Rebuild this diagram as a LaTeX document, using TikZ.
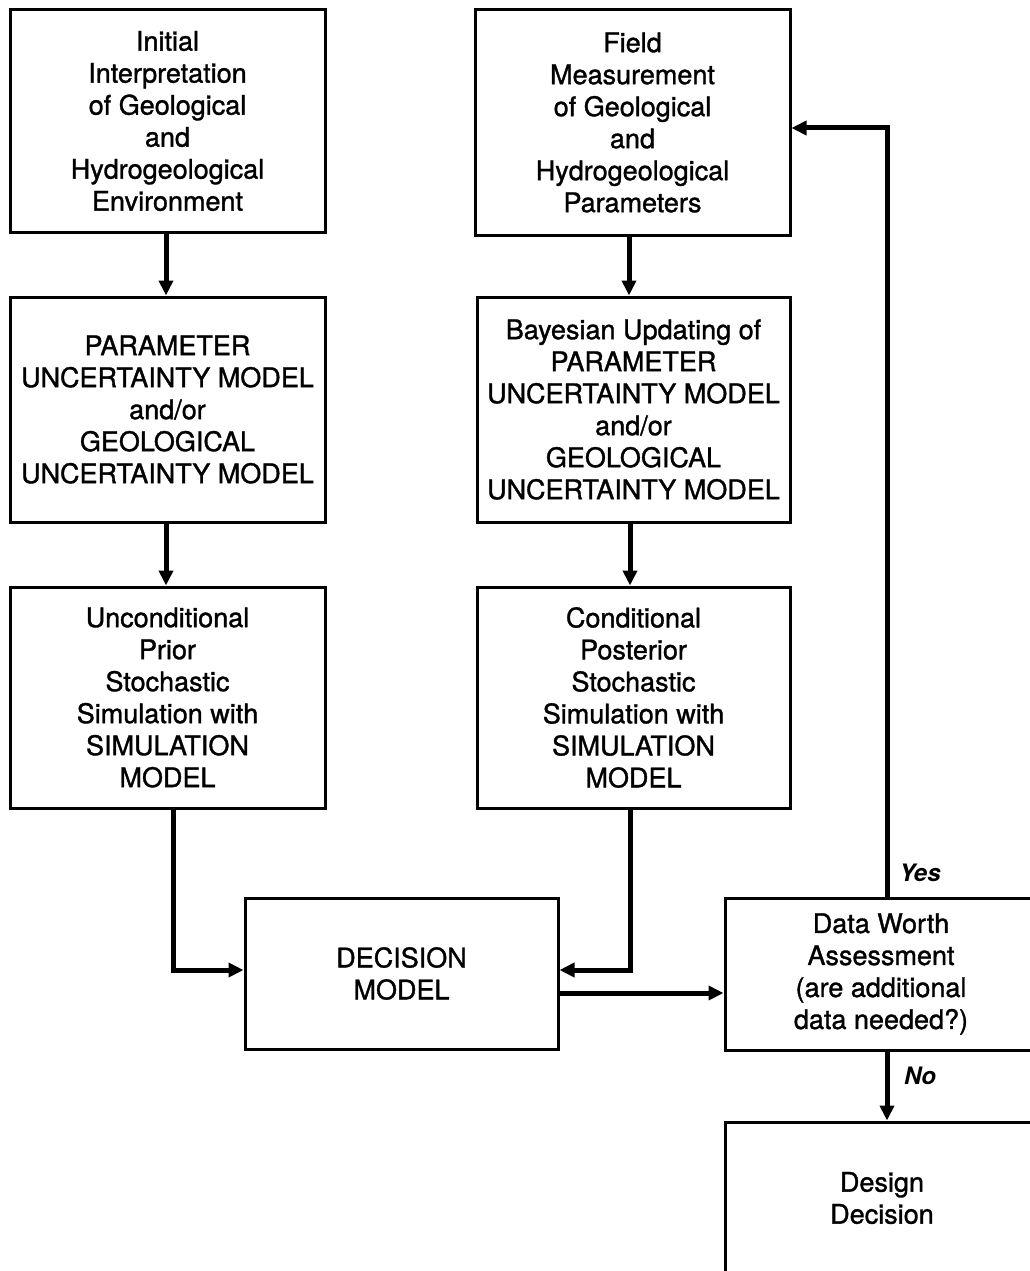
\documentclass[tikz,border=0pt]{standalone}
\usepackage{fontspec}
\setmainfont{TeX Gyre Heros}
\newfontfamily\boxfont{TeX Gyre Heros}[FakeBold=1.2]
\usetikzlibrary{arrows.meta}
\begin{document}
\begin{tikzpicture}[x=1pt,y=-1pt,
  box/.style={draw,line width=3pt,align=center,inner sep=0pt,
    font=\boxfont\fontsize{27}{32}\selectfont},
  arr/.style={line width=5pt,-{Triangle[length=15pt,width=14pt]}},
  lbl/.style={font=\fontsize{24}{28}\selectfont\bfseries\itshape}]
\fill[white] (0,0) rectangle (1030,1271);
\useasboundingbox (0,0) rectangle (1030,1271);
\clip (0,0) rectangle (1030,1271);
\node[box,minimum width=315pt,minimum height=222pt] (b1) at (167.5,121)
  {Initial\\Interpretation\\of Geological\\and\\Hydrogeological\\Environment};
\node[box,minimum width=315pt,minimum height=225pt] (b2) at (167.5,409.5)
  {PARAMETER\\UNCERTAINTY MODEL\\and/or\\GEOLOGICAL\\UNCERTAINTY MODEL};
\node[box,minimum width=315pt,minimum height=221pt] (b3) at (167.5,697.5)
  {Unconditional\\Prior\\Stochastic\\Simulation with\\SIMULATION\\MODEL};
\node[box,minimum width=315pt,minimum height=225pt] (field) at (632.5,122.5)
  {Field\\Measurement\\of Geological\\and\\Hydrogeological\\Parameters};
\node[box,minimum width=313pt,minimum height=225pt] (bay) at (633.5,409.5)
  {Bayesian Updating of\\PARAMETER\\UNCERTAINTY MODEL\\and/or\\GEOLOGICAL\\UNCERTAINTY MODEL};
\node[box,minimum width=313pt,minimum height=221pt] (cond) at (633.5,697.5)
  {Conditional\\Posterior\\Stochastic\\Simulation with\\SIMULATION\\MODEL};
\node[box,minimum width=313pt,minimum height=151pt] (dec) at (401.5,973.5)
  {DECISION\\MODEL};
\node[box,minimum width=312pt,minimum height=152pt] (dw) at (881,974)
  {Data Worth\\Assessment\\(are additional\\data needed?)};
\node[box,minimum width=314pt,minimum height=152pt] (des) at (882,1198)
  {Design\\Decision};
\draw[arr] ([xshift=-1.5pt]b1.south) -- ([xshift=-1.5pt]b2.north);
\draw[arr] ([xshift=-1.5pt]b2.south) -- ([xshift=-1.5pt]b3.north);
\draw[arr] ([xshift=-3.5pt]field.south) -- ([xshift=-3.5pt]field.south |- bay.north);
\draw[arr] ([xshift=-3.5pt]bay.south) -- ([xshift=-3.5pt]cond.north);
\draw[arr] ([xshift=5.5pt]b3.south) |- ([yshift=3.5pt]dec.west);
\draw[arr] ([xshift=-3.5pt]cond.south) |- ([yshift=3.5pt]dec.east);
\draw[arr] ([yshift=-19.5pt]dec.east) -- ([yshift=-19.5pt]dec.east -| dw.west);
\draw[arr] ([xshift=6pt]dw.north) |- ([yshift=-5.5pt]field.east);
\draw[arr] ([xshift=6pt]dw.south) -- ([xshift=6pt]dw.south |- des.north);
\node[lbl] (yes) at (920,873) {Yes};
\node[lbl] (no) at (920,1076) {No};
\end{tikzpicture}
\end{document}
